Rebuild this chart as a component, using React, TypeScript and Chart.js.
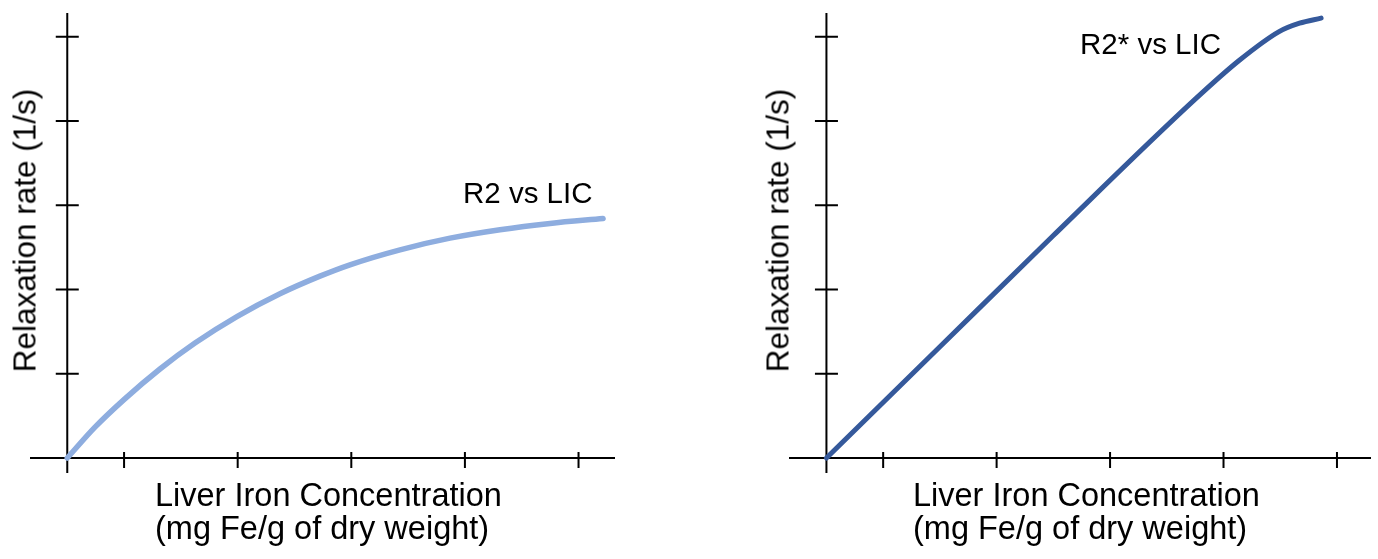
import React, { useEffect, useRef } from "react";
import { Chart, registerables } from "chart.js";

Chart.register(...registerables);

// ---- Data ----
// LIC in mg Fe/g dry weight (arbitrary but consistent units), relaxation rate in 1/s (arbitrary units)
const R2_LIC = [0, 2.44, 4.99, 8.16, 11.24, 14.93, 18.72, 22.24, 24.88, 29.29, 33.69, 38.09, 42.49, 47.16];
const R2_RATE = [0, 3.66, 6.93, 10.56, 13.64, 16.78, 19.49, 21.58, 22.93, 24.71, 26.09, 27.09, 27.84, 28.42];

const R2STAR_LIC = [0, 10, 20, 32.6, 36.4, 39.9, 41.7, 43.6];
const R2STAR_RATE = [0, 13.2, 26.4, 42.7, 47.2, 50.6, 51.6, 52.2];

const X_TICKS = [5, 15, 25, 35, 45];
const Y_TICKS = [10, 20, 30, 40, 50];

const X_TITLE_1 = "Liver Iron Concentration";
const X_TITLE_2 = "(mg Fe/g of dry weight)";
const Y_TITLE = "Relaxation rate (1/s)";
const R2_LABEL = "R2 vs LIC";
const R2STAR_LABEL = "R2* vs LIC";

const W = 1378;
const H = 559;
const FONT = '"Liberation Sans", Arial, Helvetica, sans-serif';

const axesPlugin = {
  id: "crossAxes",
  beforeDatasetsDraw(chart: any) {
    const { ctx, scales } = chart;
    const x = scales.x;
    const y = scales.y;
    const x0 = x.getPixelForValue(0);
    const y0 = y.getPixelForValue(0);
    ctx.save();
    ctx.strokeStyle = "#000";
    ctx.lineWidth = 2;
    ctx.lineCap = "butt";
    ctx.beginPath();
    ctx.moveTo(x.left, y0);
    ctx.lineTo(x.right, y0);
    ctx.moveTo(x0, y.top);
    ctx.lineTo(x0, y.bottom);
    for (const t of X_TICKS) {
      const px = x.getPixelForValue(t);
      ctx.moveTo(px, y0 - 6);
      ctx.lineTo(px, y0 + 10);
    }
    for (const t of Y_TICKS) {
      const py = y.getPixelForValue(t);
      ctx.moveTo(x0 - 11.5, py);
      ctx.lineTo(x0 + 11.5, py);
    }
    ctx.stroke();
    ctx.restore();
  },
};

type PanelProps = {
  xs: number[];
  ys: number[];
  color: string;
  lineWidth: number;
  padding: { left: number; right: number; top: number; bottom: number };
  xMin: number;
  xMax: number;
  yMin: number;
  yMax: number;
};

function Panel({ xs, ys, color, lineWidth, padding, xMin, xMax, yMin, yMax }: PanelProps) {
  const ref = useRef<HTMLCanvasElement | null>(null);
  useEffect(() => {
    if (!ref.current) return;
    const chart = new Chart(ref.current, {
      type: "line",
      data: {
        datasets: [
          {
            data: xs.map((x, i) => ({ x, y: ys[i] })),
            borderColor: color,
            borderWidth: lineWidth,
            pointRadius: 0,
            fill: false,
            cubicInterpolationMode: "monotone",
            borderCapStyle: "round",
            borderJoinStyle: "round",
          } as any,
        ],
      },
      options: {
        responsive: false,
        animation: false,
        events: [],
        layout: { padding },
        plugins: {
          legend: { display: false },
          tooltip: { enabled: false },
          title: { display: false },
        },
        scales: {
          x: { type: "linear", display: false, min: xMin, max: xMax },
          y: { type: "linear", display: false, min: yMin, max: yMax },
        },
      },
      plugins: [axesPlugin],
    });
    return () => chart.destroy();
  }, []);
  return (
    <canvas
      ref={ref}
      width={W}
      height={H}
      style={{ position: "absolute", left: 0, top: 0, width: W, height: H }}
    />
  );
}

const textBase: React.CSSProperties = {
  position: "absolute",
  fontFamily: FONT,
  color: "#000",
  whiteSpace: "nowrap",
};

function XTitle({ left }: { left: number }) {
  return (
    <div style={{ ...textBase, left, top: 479.2, fontSize: 32.5, lineHeight: "33px" }}>
      <div>{X_TITLE_1}</div>
      <div>{X_TITLE_2}</div>
    </div>
  );
}

function YTitle({ cx }: { cx: number }) {
  const w = 400;
  return (
    <div
      style={{
        ...textBase,
        left: cx - w / 2,
        top: 230 - 16.5,
        width: w,
        height: 33,
        fontSize: 31.5,
        lineHeight: "33px",
        textAlign: "center",
        transform: "rotate(-90deg)",
        transformOrigin: "50% 50%",
      }}
    >
      {Y_TITLE}
    </div>
  );
}

function Label({ left, baseline, text }: { left: number; baseline: number; text: string }) {
  return (
    <div style={{ ...textBase, left, top: baseline - 26.2, fontSize: 29.5, lineHeight: "30px" }}>
      {text}
    </div>
  );
}

export default function App() {
  const yMin = -1.78;
  const yMax = 52.81;
  return (
    <div
      style={{
        position: "fixed",
        left: 0,
        top: 0,
        width: W,
        height: H,
        background: "#fff",
        overflow: "hidden",
      }}
    >
      <Panel
        xs={R2_LIC}
        ys={R2_RATE}
        color="#8eaddf"
        lineWidth={5.5}
        padding={{ left: 30, right: W - 615, top: 13, bottom: H - 473 }}
        xMin={-3.28}
        xMax={48.21}
        yMin={yMin}
        yMax={yMax}
      />
      <Panel
        xs={R2STAR_LIC}
        ys={R2STAR_RATE}
        color="#35599b"
        lineWidth={5}
        padding={{ left: 789, right: W - 1371, top: 13, bottom: H - 473 }}
        xMin={-3.3}
        xMax={48.0}
        yMin={yMin}
        yMax={yMax}
      />
      <YTitle cx={25.1} />
      <YTitle cx={778.4} />
      <XTitle left={155} />
      <XTitle left={913} />
      <Label left={463} baseline={204} text={R2_LABEL} />
      <Label left={1080} baseline={55} text={R2STAR_LABEL} />
    </div>
  );
}
